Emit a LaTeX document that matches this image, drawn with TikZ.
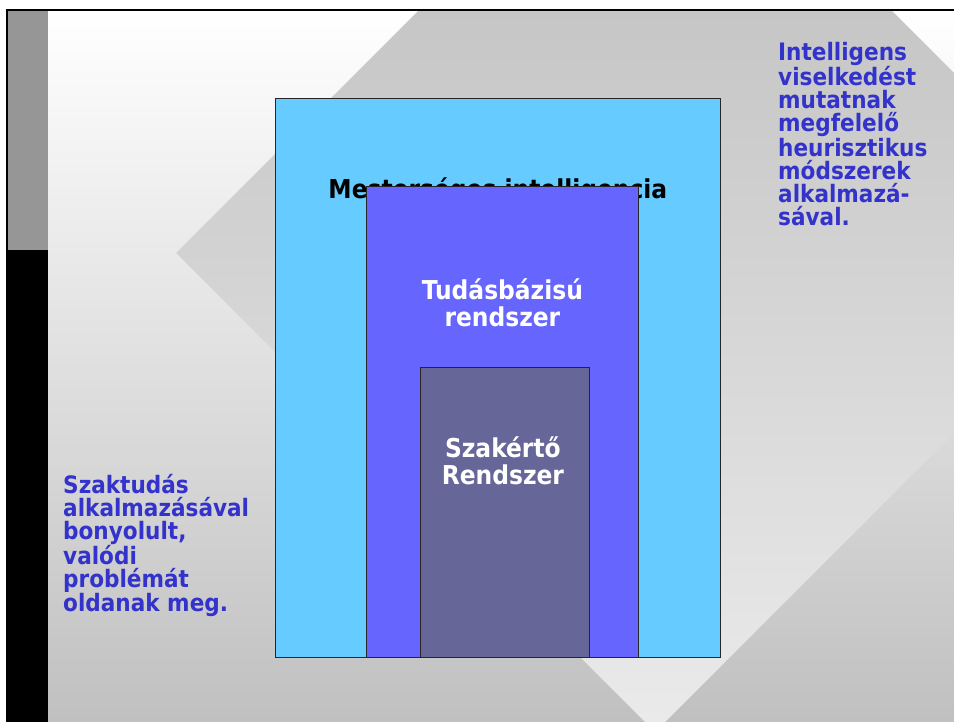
\documentclass[tikz,border=0pt]{standalone}
\usepackage{fontspec}
\setmainfont{DejaVu Sans Condensed}
\usetikzlibrary{positioning}

\definecolor{bgdark}{RGB}{192,192,192}
\definecolor{diatop}{RGB}{198,198,198}
\definecolor{diabot}{RGB}{234,234,234}
\definecolor{bargray}{RGB}{150,150,150}
\definecolor{aiblue}{RGB}{102,204,255}
\definecolor{kbblue}{RGB}{102,102,255}
\definecolor{exblue}{RGB}{102,102,153}
\definecolor{noteblue}{RGB}{51,51,204}

\begin{document}
\begin{tikzpicture}[x=1pt, y=-1pt, node distance=1cm,
    layer/.style={rectangle, draw=black!85, line width=0.8pt, anchor=north west, inner sep=0pt},
    title/.style={font=\bfseries\fontsize{26}{26.5}\selectfont, align=center, inner sep=0pt},
    note/.style={font=\bfseries\fontsize{24}{23}\selectfont, text=noteblue, align=left, anchor=north west, inner sep=0pt}]

% Slide background
\useasboundingbox (0,0) rectangle (954,722);
\fill[white] (0,0) rectangle (954,722);
\shade[top color=white, bottom color=bgdark] (7,10) rectangle (954,722);
\begin{scope}
\clip (176,253) -- (655,-226) -- (1134,253) -- (655,732) -- cycle;
\shade[top color=diatop, bottom color=diabot] (7,10) rectangle (954,722);
\end{scope}
\fill[bargray] (7,10) rectangle (48,250);
\fill[black] (7,250) rectangle (48,722);
\draw[line width=2pt] (7,722) -- (7,10) -- (954,10);

% Nested layers
\node[layer, fill=aiblue, minimum width=445pt, minimum height=559pt] (ai) at (275,98) {};
\node[title, below=80pt of ai.north] (aititle) {Mesterséges intelligencia};
\node[layer, fill=kbblue, minimum width=272pt, minimum height=471pt] (kb) at (366,186) {};
\node[title, text=white, below=93pt of kb.north] (kbtitle) {Tudásbázisú\\rendszer};
\node[layer, fill=exblue, minimum width=169pt, minimum height=290pt] (ex) at (420,367) {};
\node[title, text=white, below=70pt of ex.north, xshift=-2pt] (extitle) {Szakértő\\Rendszer};

% Side notes
\node[note] (rightnote) at (778,42) {Intelligens\\viselkedést\\mutatnak\\megfelelő\\heurisztikus\\módszerek\\alkalmazá-\\sával.};
\node[note] (leftnote) at (63,474) {Szaktudás\\alkalmazásával\\bonyolult,\\valódi\\problémát\\oldanak meg.};

\end{tikzpicture}
\end{document}
